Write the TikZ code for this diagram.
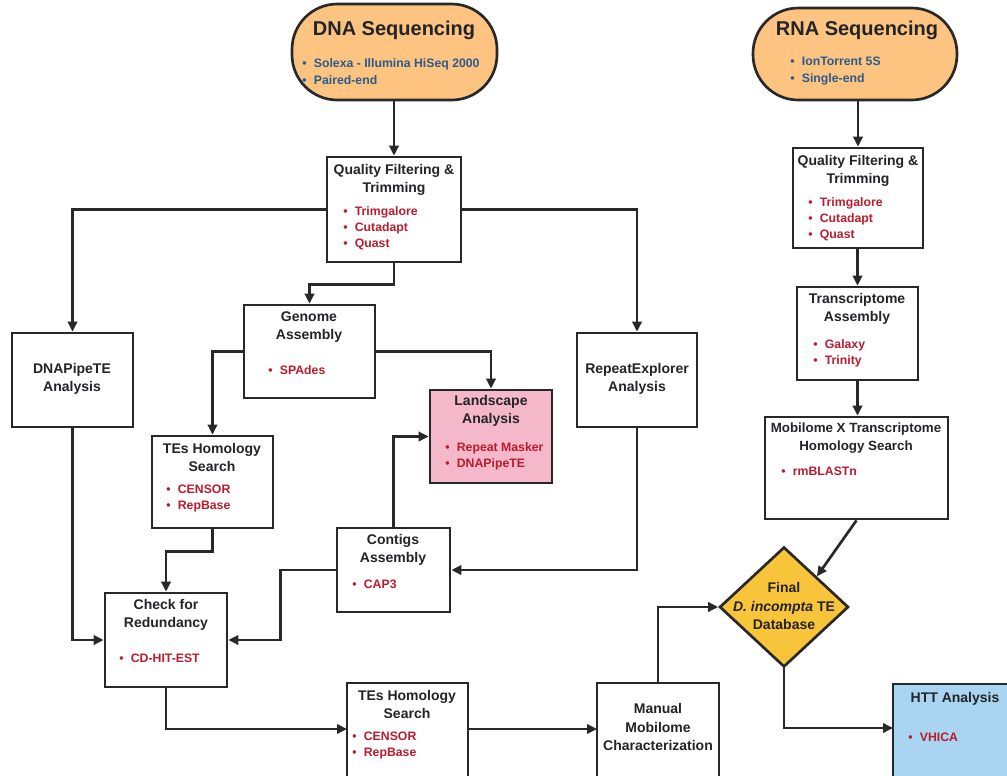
\documentclass[tikz,border=0pt]{standalone}
\usepackage{fontspec}
\setmainfont{Liberation Sans}
\usetikzlibrary{arrows.meta,fit,shapes.geometric}
\definecolor{linec}{RGB}{40,40,40}
\definecolor{titc}{RGB}{35,35,40}
\definecolor{redt}{RGB}{185,28,45}
\definecolor{bluet}{RGB}{45,90,140}
\definecolor{orangef}{RGB}{252,196,128}
\definecolor{pinkf}{RGB}{244,184,202}
\definecolor{goldf}{RGB}{248,196,58}
\definecolor{bluef}{RGB}{170,213,242}
\newcommand{\bl}{\textbullet\hspace{5.5pt}}
\tikzset{
  bx/.style={draw=linec, line width=2pt, fill=white, inner sep=0pt},
  seqbox/.style={bx, fill=orangef, rounded corners=34pt},
  ttl/.style={font=\fontsize{10.5}{13.5}\selectfont\bfseries, text=titc, align=center, inner sep=0pt},
  bigttl/.style={font=\fontsize{15}{18}\selectfont\bfseries, text=titc, inner sep=0pt},
  lst/.style={font=\fontsize{9.2}{12}\selectfont\bfseries, text=redt, align=left, anchor=west, inner sep=0pt},
  blst/.style={lst, text=bluet, font=\fontsize{9.2}{12.75}\selectfont\bfseries},
  arr/.style={draw=linec, line width=2pt, -{Triangle[length=7.5pt,width=7pt]}},
}
\begin{document}
\begin{tikzpicture}[x=0.75pt,y=-0.75pt]
\useasboundingbox[fill=white] (0,0) rectangle (1007,775);
\clip (0,0) rectangle (1007,775);

% boxes
\node[seqbox, fit={(292,4)(497,100)}] (dna) {};
\node[seqbox, fit={(753,8)(957,100)}] (rna) {};
\node[bx, fit={(327,157)(461,262)}] (qfd) {};
\node[bx, fit={(793,148)(923,248)}] (qfr) {};
\node[bx, fit={(244,305)(375,398)}] (gen) {};
\node[bx, fill=pinkf, fit={(430,390)(552,483)}] (lan) {};
\node[bx, fit={(12,333)(133,427)}] (dpt) {};
\node[bx, fit={(152,436)(273,528)}] (te1) {};
\node[bx, fit={(577,333)(697,427)}] (rex) {};
\node[bx, fit={(797,287)(918,380)}] (tra) {};
\node[bx, fit={(765,417)(948,519)}] (mob) {};
\node[bx, fit={(105,593)(227,687)}] (chk) {};
\node[bx, fit={(337,528)(450,612)}] (con) {};
\node[bx, fit={(347,683)(468,795)}] (te2) {};
\node[bx, fit={(597,683)(719,795)}] (man) {};
\node[bx, fill=bluef, fit={(893,684)(1020,795)}] (htt) {};
\node[diamond, draw=linec, line width=2pt, fill=goldf, minimum width=96.75pt, minimum height=90pt, inner sep=0pt] (dia) at (784,607) {};

% texts
\node[bigttl] (dnat) at (394,30) {DNA Sequencing};
\node[blst] (dnal) at (302,71.5) {\bl Solexa - Illumina HiSeq 2000\\\bl Paired-end};
\node[bigttl] (rnat) at (857,30) {RNA Sequencing};
\node[blst] (rnal) at (790,71) {\bl IonTorrent 5S\\\bl Single-end};

\node[ttl] (qfdt) at (394,180) {Quality Filtering \&\\Trimming};
\node[lst] (qfdl) at (343,228) {\bl Trimgalore\\\bl Cutadapt\\\bl Quast};
\node[ttl] (qfrt) at (858,171) {Quality Filtering \&\\Trimming};
\node[lst] (qfrl) at (808,219) {\bl Trimgalore\\\bl Cutadapt\\\bl Quast};

\node[ttl] (gent) at (309,327) {Genome\\Assembly};
\node[lst] (genl) at (268,370) {\bl SPAdes};
\node[ttl] (lant) at (491,411) {Landscape\\Analysis};
\node[lst] (lanl) at (445,456) {\bl Repeat Masker\\\bl DNAPipeTE};
\node[ttl] (dptt) at (72,379) {DNAPipeTE\\Analysis};
\node[ttl] (te1t) at (212,457) {TEs Homology\\Search};
\node[lst] (te1l) at (166,498.5) {\bl CENSOR\\\bl RepBase};
\node[ttl] (rext) at (637,379) {RepeatExplorer\\Analysis};
\node[ttl] (trat) at (857,309) {Transcriptome\\Assembly};
\node[lst] (tral) at (813,353) {\bl Galaxy\\\bl Trinity};
\node[ttl, font=\fontsize{10}{13.5}\selectfont\bfseries] (mobt) at (856,438) {Mobilome X Transcriptome\\Homology Search};
\node[lst] (mobl) at (781,471) {\bl rmBLASTn};
\node[ttl] (chkt) at (166,615) {Check for\\Redundancy};
\node[lst] (chkl) at (119,658) {\bl CD-HIT-EST};
\node[ttl] (cont) at (393,550) {Contigs\\Assembly};
\node[lst] (conl) at (352,584) {\bl CAP3};
\node[ttl] (te2t) at (407,704) {TEs Homology\\Search};
\node[lst] (te2l) at (352,745) {\bl CENSOR\\\bl RepBase};
\node[ttl, font=\fontsize{10.5}{14.2}\selectfont\bfseries] (mant) at (658,727) {Manual\\Mobilome\\Characterization};
\node[ttl, font=\fontsize{10.5}{14.2}\selectfont\bfseries] (diat) at (784,606) {Final\\\textit{D. incompta} TE\\Database};
\node[ttl] (httt) at (955,699) {HTT Analysis};
\node[lst] (httl) at (908,737) {\bl VHICA};

% helper coordinates on cut-off boxes
\coordinate (te2w) at (347,729);
\coordinate (te2e) at (468,729);
\coordinate (manw) at (597,729);
\coordinate (httw) at (893,728);

% connectors
\draw[arr] (qfd.north |- dna.south) -- (qfd.north);
\draw[arr] (qfd.west) -| (dpt.north);
\draw[arr] (qfd.east) -| (rex.north);
\draw[arr] (qfd.south) -- ++(0,21) -| (gen.north);
\draw[arr] (gen.east) -| (lan.north);
\draw[arr] (gen.west) -| (te1.north);
\draw[arr] (con.north) |- (lan.west);
\draw[arr] (rex.south) |- (con.east);
\draw[arr] (con.west) -- ++(-55,0) |- (chk.east);
\draw[arr] (te1.south) -- ++(0,22) -| (chk.north);
\draw[arr] (dpt.south) |- (chk.west);
\draw[arr] (chk.south) |- (te2w);
\draw[arr] (te2e) -- (manw);
\draw[arr] (man.north) |- (dia.west);
\draw[arr] (dia.south) |- (httw);
\draw[arr] (mob.south) -- (dia.north east);
\draw[arr] (qfr.north |- rna.south) -- (qfr.north);
\draw[arr] (qfr.south) -- (tra.north |- qfr.south) -- (tra.north);
\draw[arr] (tra.south) -- (tra.south |- mob.north);
\end{tikzpicture}
\end{document}
